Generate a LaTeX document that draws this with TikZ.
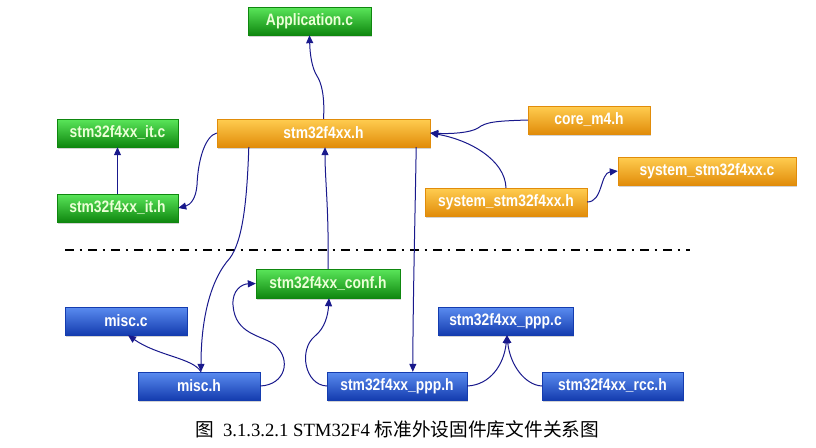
\documentclass[tikz,border=0pt]{standalone}
\usepackage{fontspec}
\setmainfont{Liberation Serif}
\newfontfamily\cjk{Noto Sans CJK SC}[Scale=1.0]
\newfontfamily\boxfont{Liberation Sans}[FakeStretch=0.84]
\usetikzlibrary{arrows.meta,shadows,calc}
\definecolor{navy}{RGB}{25,25,140}
\definecolor{gtop}{RGB}{90,230,90}
\definecolor{gmid}{RGB}{30,185,30}
\definecolor{gbot}{RGB}{15,135,15}
\definecolor{otop}{RGB}{255,205,80}
\definecolor{omid}{RGB}{255,170,20}
\definecolor{obot}{RGB}{225,140,10}
\definecolor{btop}{RGB}{90,140,240}
\definecolor{bmid}{RGB}{35,95,215}
\definecolor{bbot}{RGB}{20,60,175}
\tikzset{
  fbox/.style={rectangle, inner sep=0pt, font=\boxfont\bfseries\fontsize{16.5}{18}\selectfont, text=white,
    drop shadow={shadow xshift=1.2pt, shadow yshift=-1.5pt, opacity=0.35}},
  gbox/.style={fbox, top color=gtop, middle color=gmid, bottom color=gbot, draw=gbot, text={rgb,255:red,235;green,255;blue,215}},
  obox/.style={fbox, top color=otop, middle color=omid, bottom color=obot, draw=obot},
  bbox/.style={fbox, top color=btop, middle color=bmid, bottom color=bbot, draw=bbot},
  arr/.style={draw=navy, line width=1pt, -{Triangle[length=8pt,width=7pt]}},
}
\begin{document}
\begin{tikzpicture}[x=1pt,y=-1pt]
\useasboundingbox (0,0) rectangle (816,447);
% nodes
\node[gbox, minimum width=123pt, minimum height=28pt] (app) at (309.5,21) {Application.c};
\node[obox, minimum width=213pt, minimum height=28pt] (h) at (323.5,133) {stm32f4xx.h};
\node[obox, minimum width=122pt, minimum height=28pt] (core) at (589,120) {core\_m4.h};
\node[obox, minimum width=178pt, minimum height=28pt] (sysC) at (707,171) {system\_stm32f4xx.c};
\node[obox, minimum width=162pt, minimum height=28pt] (sysH) at (506,202) {system\_stm32f4xx.h};
\node[gbox, minimum width=121pt, minimum height=28pt] (itC) at (117.5,133) {stm32f4xx\_it.c};
\node[gbox, minimum width=121pt, minimum height=28pt] (itH) at (117.5,208) {stm32f4xx\_it.h};
\node[gbox, minimum width=144pt, minimum height=29pt] (cf) at (328,283.5) {stm32f4xx\_conf.h};
\node[bbox, minimum width=122pt, minimum height=28pt] (mc) at (126,321) {misc.c};
\node[bbox, minimum width=122pt, minimum height=28pt] (mh) at (199,386) {misc.h};
\node[bbox, minimum width=140pt, minimum height=28pt] (pH) at (397,386) {stm32f4xx\_ppp.h};
\node[bbox, minimum width=135pt, minimum height=28pt] (pC) at (505.5,321) {stm32f4xx\_ppp.c};
\node[bbox, minimum width=141pt, minimum height=28pt] (rc) at (612.5,386) {stm32f4xx\_rcc.h};
% separator
\coordinate (sepL) at (65,250);
\coordinate (sepR) at (690,250);
\draw[line width=2.6pt, dash pattern=on 9pt off 5.5pt on 2.5pt off 6pt] (sepL) -- (sepR);
% connectors
\draw[arr] (h.north) .. controls (325,95) and (321,82) .. (317,76) .. controls (312,68) and (310,55) .. (app.south);
\draw[arr] (h.west) .. controls (205,136) and (198,160) .. (197,185) .. controls (196,199) and (190,205) .. (itH.east);
\draw[arr] (itH.north) -- (itC.south);
\draw[arr] (core.west) .. controls (495,121) and (486,122) .. (478,128) .. controls (470,133) and (450,134) .. (h.east);
\draw[arr] (sysH.north) .. controls (505,160) and (470,140) .. (h.east);
\draw[arr] (sysH.east) .. controls (603,202) and (600,173) .. (sysC.west);
\draw[arr] ($(h.south west)+(32,0)$) .. controls (247,200) and (243,240) .. (230,258) .. controls (210,280) and (201,320) .. ([xshift=2pt]mh.north);
\draw[arr] (cf.north) .. controls (329,210) and (325,180) .. ([xshift=1.5pt]h.south);
\draw[arr] ($(h.south east)+(-14,0)$) .. controls (415,220) and (413,300) .. ($(pH.north west)+(86,0)$);
\draw[arr] (mh.east) .. controls (285,385) and (292,360) .. (275,345) .. controls (262,335) and (235,335) .. (233,305) .. controls (232,290) and (242,284) .. (cf.west);
\draw[arr] (pH.west) .. controls (305,385) and (298,350) .. (315,336) .. controls (325,328) and (328,315) .. ([xshift=1pt]cf.south);
\draw[arr] ([xshift=2pt]mh.north) .. controls (193,358) and (158,356) .. ([xshift=2pt]mc.south);
\draw[arr] (pH.east) .. controls (490,385) and (504,365) .. ([xshift=1.5pt]pC.south);
\draw[arr] (rc.west) .. controls (525,385) and (510,365) .. ([xshift=1.5pt]pC.south);
% caption
\node[font=\fontsize{18.7}{22}\selectfont, anchor=base] (cap) at (397.5,436) {{\cjk 图}\hspace{0.45em}3.1.3.2.1 STM32F4 {\cjk 标准外设固件库文件关系图}};
\end{tikzpicture}
\end{document}
